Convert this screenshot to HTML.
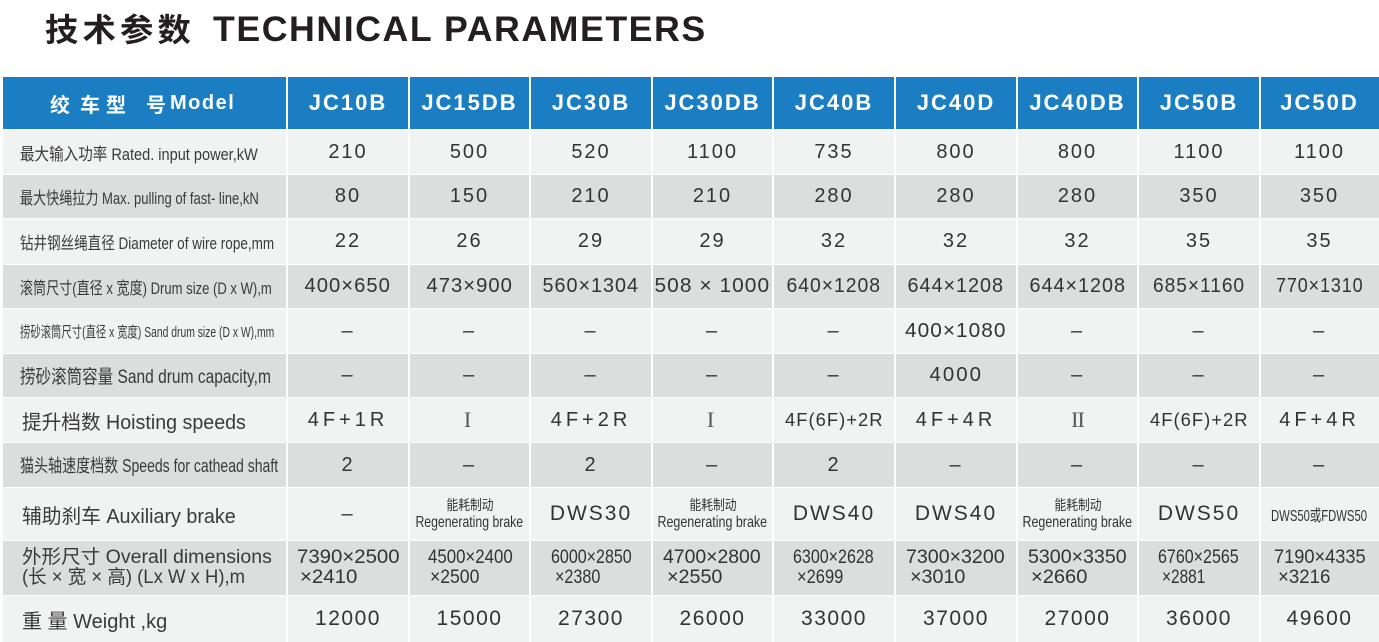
<!DOCTYPE html>
<html><head><meta charset="utf-8">
<style>
*{margin:0;padding:0;box-sizing:border-box}
html,body{width:1379px;height:642px;background:#fff;overflow:hidden}
body{position:relative;font-family:"Liberation Sans","Noto Sans CJK SC",sans-serif;color:#333}
.t{position:absolute;top:10px;line-height:40px;white-space:nowrap;color:#231f20;font-weight:bold;transform-origin:left center}
.row{position:absolute;left:3px;width:1376px;display:grid;grid-template-columns:284px 122px 121px 122px 121px 122px 122px 121px 122px 119px}
.row>div{display:flex;align-items:center;justify-content:center;white-space:nowrap;overflow:visible}
.L{background:#f1f2f2}.G{background:#dcdddd}
.row>div.lb{justify-content:flex-start;padding-left:17px;color:#3a3a3a}
.row>div.lb2{padding-left:19px}
.row span{display:inline-block;transform-origin:center center}
.row>div.lb>span{transform-origin:left center !important}
.n{font-size:20px;letter-spacing:2px}
.w{font-size:21px;letter-spacing:1.5px}
.dm{font-size:20px;letter-spacing:1px}
.hs{font-size:20px;letter-spacing:4px}
.rn{font-family:"Liberation Serif",serif;font-size:22px;color:#555}
.dw{font-size:21px;letter-spacing:2px}
.br{flex-direction:column}
.br span{display:block;line-height:18px}
.row>div.dim{flex-direction:column;align-items:flex-start;justify-content:center;font-size:19px}
.row>div.dim>span{display:block;line-height:20px;transform-origin:left center !important}
.hd{background:#1b7ec2;color:#fff;font-weight:bold;font-size:22px;letter-spacing:2px}
.vl{position:absolute;top:77px;height:565px;width:2px;background:#fff}
.hl{position:absolute;left:3px;top:77px;width:284px;height:52px;display:flex;align-items:center;color:#fff;font-weight:bold;font-size:20px;white-space:nowrap;padding-left:47px}
</style></head><body>

<div class="t" style="left:45px;font-size:32px;letter-spacing:4px;--w:150px">技术参数</div>
<div class="t" style="left:213px;font-size:35px;letter-spacing:1.5px;--w:494px">TECHNICAL PARAMETERS</div>

<!-- header -->
<div class="row hd" style="top:77px;height:52px">
<div></div><div>JC10B</div><div>JC15DB</div><div>JC30B</div><div>JC30DB</div><div>JC40B</div><div>JC40D</div><div>JC40DB</div><div>JC50B</div><div>JC50D</div>
</div>
<div class="hl"><span>绞</span><span style="margin-left:10px">车</span><span style="margin-left:6px">型</span><span style="margin-left:20px">号</span><span style="margin-left:4px;letter-spacing:1.5px">Model</span></div>

<!-- r1 -->
<div class="row L n" style="top:130px;height:44px">
<div class="lb" style="font-size:17px;letter-spacing:0"><span style="--w:238px">最大输入功率 Rated. input power,kW</span></div>
<div>210</div><div>500</div><div>520</div><div>1100</div><div>735</div><div>800</div><div>800</div><div>1100</div><div>1100</div>
</div>
<!-- r2 -->
<div class="row G n" style="top:175px;height:43px">
<div class="lb" style="font-size:17px;letter-spacing:0"><span style="--w:239px">最大快绳拉力 Max. pulling of fast- line,kN</span></div>
<div>80</div><div>150</div><div>210</div><div>210</div><div>280</div><div>280</div><div>280</div><div>350</div><div>350</div>
</div>
<!-- r3 -->
<div class="row L n" style="top:219px;height:45px">
<div class="lb" style="font-size:17px;letter-spacing:0"><span style="--w:254px">钻井钢丝绳直径 Diameter of wire rope,mm</span></div>
<div>22</div><div>26</div><div>29</div><div>29</div><div>32</div><div>32</div><div>32</div><div>35</div><div>35</div>
</div>
<!-- r4 -->
<div class="row G dm" style="top:265px;height:43px">
<div class="lb" style="font-size:17px;letter-spacing:0"><span style="--w:252px">滚筒尺寸(直径 x 宽度) Drum size (D x W),m</span></div>
<div><span style="--w:86px">400×650</span></div><div><span style="--w:86px">473×900</span></div><div><span style="--w:97px">560×1304</span></div><div><span style="--w:116px">508 × 1000</span></div><div><span style="--w:95px">640×1208</span></div><div><span style="--w:97px">644×1208</span></div><div><span style="--w:97px">644×1208</span></div><div><span style="--w:92px">685×1160</span></div><div><span style="--w:88px">770×1310</span></div>
</div>
<!-- r5 -->
<div class="row L n" style="top:309px;height:44px">
<div class="lb" style="font-size:15px;letter-spacing:0"><span style="--w:254px">捞砂滚筒尺寸(直径 x 宽度) Sand drum size (D x W),mm</span></div>
<div>–</div><div>–</div><div>–</div><div>–</div><div>–</div><div style="letter-spacing:1px"><span style="--w:102px">400×1080</span></div><div>–</div><div>–</div><div>–</div>
</div>
<!-- r6 -->
<div class="row G n" style="top:354px;height:43px">
<div class="lb" style="font-size:19px;letter-spacing:0"><span style="--w:251px">捞砂滚筒容量 Sand drum capacity,m</span></div>
<div>–</div><div>–</div><div>–</div><div>–</div><div>–</div><div><span style="--w:54px">4000</span></div><div>–</div><div>–</div><div>–</div>
</div>
<!-- r7 -->
<div class="row L hs" style="top:398px;height:44px">
<div class="lb lb2" style="font-size:20px;letter-spacing:0"><span style="--w:224px">提升档数 Hoisting speeds</span></div>
<div>4F+1R</div><div class="rn">I</div><div>4F+2R</div><div class="rn">I</div><div style="font-size:18px;letter-spacing:1px"><span style="--w:99px">4F(6F)+2R</span></div><div>4F+4R</div><div class="rn" style="letter-spacing:-1px">II</div><div style="font-size:18px;letter-spacing:1px"><span style="--w:99px">4F(6F)+2R</span></div><div>4F+4R</div>
</div>
<!-- r8 -->
<div class="row G n" style="top:443px;height:44px">
<div class="lb" style="font-size:18px;letter-spacing:0"><span style="--w:258px">猫头轴速度档数 Speeds for cathead shaft</span></div>
<div>2</div><div>–</div><div>2</div><div>–</div><div>2</div><div>–</div><div>–</div><div>–</div><div>–</div>
</div>
<!-- r9 -->
<div class="row L dw" style="top:488px;height:52px">
<div class="lb lb2" style="font-size:20px;letter-spacing:0"><span style="--w:214px">辅助刹车 Auxiliary brake</span></div>
<div style="font-size:20px">–</div>
<div class="br" style="letter-spacing:0"><span style="font-size:14px;--w:47px">能耗制动</span><span style="font-size:16px;--w:108px">Regenerating brake</span></div>
<div>DWS30</div>
<div class="br" style="letter-spacing:0"><span style="font-size:14px;--w:47px">能耗制动</span><span style="font-size:16px;--w:110px">Regenerating brake</span></div>
<div>DWS40</div><div>DWS40</div>
<div class="br" style="letter-spacing:0"><span style="font-size:14px;--w:47px">能耗制动</span><span style="font-size:16px;--w:110px">Regenerating brake</span></div>
<div>DWS50</div>
<div style="font-size:16px;letter-spacing:0"><span style="--w:96px">DWS50或FDWS50</span></div>
</div>
<!-- r10 -->
<div class="row G" style="top:541px;height:54px">
<div class="lb lb2 dim" style="padding-left:19px;color:#3a3a3a"><span style="--w:250px">外形尺寸 Overall dimensions</span><span style="--w:223px">(长 × 宽 × 高) (Lx W x H),m</span></div>
<div class="dim" style="padding-left:10px"><span style="--w:103px">7390×2500</span><span style="margin-left:3px;--w:57px">×2410</span></div>
<div class="dim" style="padding-left:19px"><span style="--w:85px">4500×2400</span><span style="margin-left:2px;--w:49px">×2500</span></div>
<div class="dim" style="padding-left:21px"><span style="--w:81px">6000×2850</span><span style="margin-left:4px;--w:45px">×2380</span></div>
<div class="dim" style="padding-left:11px"><span style="--w:98px">4700×2800</span><span style="margin-left:4px;--w:55px">×2550</span></div>
<div class="dim" style="padding-left:20px"><span style="--w:81px">6300×2628</span><span style="margin-left:4px;--w:46px">×2699</span></div>
<div class="dim" style="padding-left:11px"><span style="--w:99px">7300×3200</span><span style="margin-left:4px;--w:55px">×3010</span></div>
<div class="dim" style="padding-left:11px"><span style="--w:99px">5300×3350</span><span style="margin-left:3px;--w:56px">×2660</span></div>
<div class="dim" style="padding-left:20px"><span style="--w:81px">6760×2565</span><span style="margin-left:4px;--w:43px">×2881</span></div>
<div class="dim" style="padding-left:14px"><span style="--w:92px">7190×4335</span><span style="margin-left:4px;--w:52px">×3216</span></div>
</div>
<!-- r11 -->
<div class="row L w" style="top:596px;height:46px">
<div class="lb lb2" style="font-size:20px;letter-spacing:0"><span style="--w:145px">重 量 Weight ,kg</span></div>
<div>12000</div><div>15000</div><div>27300</div><div>26000</div><div>33000</div><div>37000</div><div>27000</div><div>36000</div><div>49600</div>
</div>

<!-- vertical lines -->
<div class="vl" style="left:286px"></div>
<div class="vl" style="left:408px"></div>
<div class="vl" style="left:529px"></div>
<div class="vl" style="left:651px"></div>
<div class="vl" style="left:772px"></div>
<div class="vl" style="left:894px"></div>
<div class="vl" style="left:1016px"></div>
<div class="vl" style="left:1137px"></div>
<div class="vl" style="left:1259px"></div>

<script>
function fit(){document.querySelectorAll('[style*="--w"]').forEach(function(e){var w=parseFloat(getComputedStyle(e).getPropertyValue('--w'));var n=e.offsetWidth;if(n>0&&w>0){e.style.transform='scaleX('+(w/n).toFixed(4)+')';}});}
fit();
window.addEventListener('load',fit);
if(document.fonts&&document.fonts.ready){document.fonts.ready.then(fit);}
</script>
</body></html>
